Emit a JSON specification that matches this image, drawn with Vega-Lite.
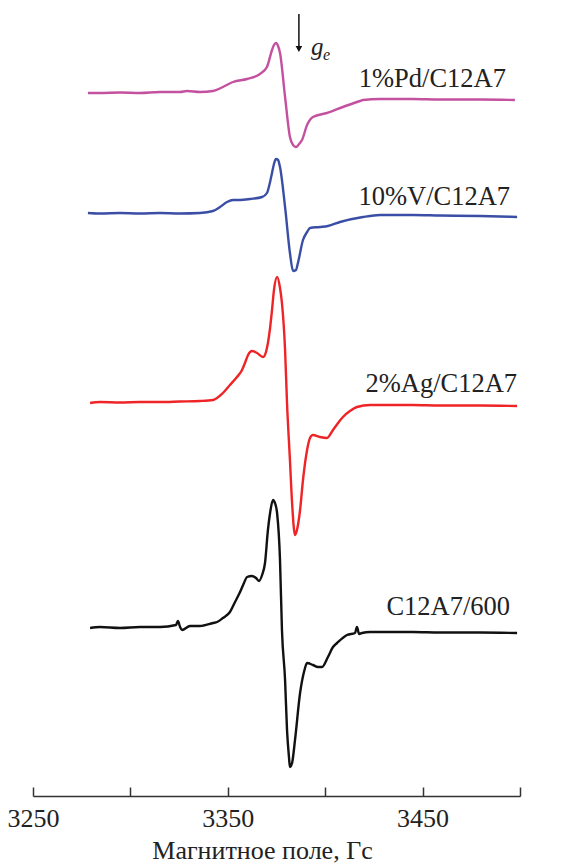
{
  "$schema": "https://vega.github.io/schema/vega-lite/v6.json",
  "width": 487,
  "height": 796,
  "autosize": "none",
  "padding": {"left": 33, "top": 0, "right": 50, "bottom": 68},
  "background": "white",
  "config": {"view": {"stroke": null}, "font": "'Liberation Serif', 'Times New Roman', Times, 'DejaVu Serif', serif"},
  "datasets": {
    "spectra": [
      {"s": "Pd", "B": 3278.2, "I": 703}, {"s": "Pd", "B": 3284.4, "I": 703}, {"s": "Pd", "B": 3294.7, "I": 703.5}, {"s": "Pd", "B": 3304.9, "I": 703}, {"s": "Pd", "B": 3315.2, "I": 704}, {"s": "Pd", "B": 3325.5, "I": 704}, {"s": "Pd", "B": 3329.1, "I": 705}, {"s": "Pd", "B": 3335.7, "I": 704}, {"s": "Pd", "B": 3342.4, "I": 705}, {"s": "Pd", "B": 3347.5, "I": 709}, {"s": "Pd", "B": 3352.7, "I": 714}, {"s": "Pd", "B": 3359.9, "I": 717}, {"s": "Pd", "B": 3366.5, "I": 722}, {"s": "Pd", "B": 3370.1, "I": 729}, {"s": "Pd", "B": 3372.7, "I": 746}, {"s": "Pd", "B": 3373.7, "I": 751}, {"s": "Pd", "B": 3374.7, "I": 753}, {"s": "Pd", "B": 3375.8, "I": 750}, {"s": "Pd", "B": 3376.8, "I": 743}, {"s": "Pd", "B": 3379.4, "I": 699}, {"s": "Pd", "B": 3381.9, "I": 659}, {"s": "Pd", "B": 3383.5, "I": 651}, {"s": "Pd", "B": 3385.0, "I": 649}, {"s": "Pd", "B": 3386.6, "I": 652}, {"s": "Pd", "B": 3388.1, "I": 656}, {"s": "Pd", "B": 3390.7, "I": 671}, {"s": "Pd", "B": 3393.7, "I": 679}, {"s": "Pd", "B": 3400.9, "I": 683}, {"s": "Pd", "B": 3409.1, "I": 689}, {"s": "Pd", "B": 3417.9, "I": 695}, {"s": "Pd", "B": 3419.4, "I": 696}, {"s": "Pd", "B": 3428.1, "I": 697}, {"s": "Pd", "B": 3445.1, "I": 697}, {"s": "Pd", "B": 3458.9, "I": 696.5}, {"s": "Pd", "B": 3479.5, "I": 696.5}, {"s": "Pd", "B": 3497.4, "I": 696},

      {"s": "V", "B": 3278.2, "I": 583}, {"s": "V", "B": 3284.4, "I": 582.5}, {"s": "V", "B": 3294.7, "I": 583}, {"s": "V", "B": 3304.9, "I": 582.5}, {"s": "V", "B": 3315.2, "I": 583}, {"s": "V", "B": 3325.5, "I": 582.5}, {"s": "V", "B": 3335.7, "I": 583}, {"s": "V", "B": 3342.4, "I": 585}, {"s": "V", "B": 3346.0, "I": 589}, {"s": "V", "B": 3349.6, "I": 594}, {"s": "V", "B": 3352.7, "I": 596}, {"s": "V", "B": 3356.3, "I": 596}, {"s": "V", "B": 3361.4, "I": 597}, {"s": "V", "B": 3367.6, "I": 599}, {"s": "V", "B": 3370.1, "I": 603}, {"s": "V", "B": 3371.7, "I": 614}, {"s": "V", "B": 3372.7, "I": 623}, {"s": "V", "B": 3373.7, "I": 632}, {"s": "V", "B": 3374.7, "I": 637}, {"s": "V", "B": 3375.8, "I": 636}, {"s": "V", "B": 3376.8, "I": 629}, {"s": "V", "B": 3379.4, "I": 589}, {"s": "V", "B": 3381.9, "I": 543}, {"s": "V", "B": 3383.5, "I": 525}, {"s": "V", "B": 3385.0, "I": 526}, {"s": "V", "B": 3386.0, "I": 533}, {"s": "V", "B": 3388.6, "I": 556}, {"s": "V", "B": 3390.7, "I": 564}, {"s": "V", "B": 3392.2, "I": 568}, {"s": "V", "B": 3397.3, "I": 569}, {"s": "V", "B": 3401.4, "I": 570}, {"s": "V", "B": 3407.6, "I": 574}, {"s": "V", "B": 3419.4, "I": 579}, {"s": "V", "B": 3428.1, "I": 581}, {"s": "V", "B": 3445.1, "I": 581}, {"s": "V", "B": 3458.9, "I": 580.5}, {"s": "V", "B": 3479.5, "I": 580}, {"s": "V", "B": 3498.5, "I": 579},

      {"s": "Ag", "B": 3279.3, "I": 393}, {"s": "Ag", "B": 3284.4, "I": 394}, {"s": "Ag", "B": 3294.7, "I": 393.5}, {"s": "Ag", "B": 3304.9, "I": 394}, {"s": "Ag", "B": 3315.2, "I": 394}, {"s": "Ag", "B": 3325.5, "I": 394.5}, {"s": "Ag", "B": 3335.7, "I": 395}, {"s": "Ag", "B": 3342.4, "I": 396}, {"s": "Ag", "B": 3347.5, "I": 403}, {"s": "Ag", "B": 3351.1, "I": 411}, {"s": "Ag", "B": 3354.7, "I": 419}, {"s": "Ag", "B": 3357.3, "I": 426}, {"s": "Ag", "B": 3358.8, "I": 433}, {"s": "Ag", "B": 3360.4, "I": 441}, {"s": "Ag", "B": 3362.4, "I": 445}, {"s": "Ag", "B": 3365.0, "I": 443}, {"s": "Ag", "B": 3368.1, "I": 439}, {"s": "Ag", "B": 3369.6, "I": 444}, {"s": "Ag", "B": 3370.6, "I": 453}, {"s": "Ag", "B": 3371.7, "I": 468}, {"s": "Ag", "B": 3372.7, "I": 486}, {"s": "Ag", "B": 3373.7, "I": 506}, {"s": "Ag", "B": 3375.3, "I": 519}, {"s": "Ag", "B": 3376.8, "I": 508}, {"s": "Ag", "B": 3377.8, "I": 493}, {"s": "Ag", "B": 3379.4, "I": 446}, {"s": "Ag", "B": 3380.4, "I": 393}, {"s": "Ag", "B": 3381.9, "I": 336}, {"s": "Ag", "B": 3383.0, "I": 293}, {"s": "Ag", "B": 3384.5, "I": 261}, {"s": "Ag", "B": 3385.5, "I": 266}, {"s": "Ag", "B": 3387.1, "I": 286}, {"s": "Ag", "B": 3388.6, "I": 316}, {"s": "Ag", "B": 3390.7, "I": 346}, {"s": "Ag", "B": 3392.2, "I": 358}, {"s": "Ag", "B": 3393.7, "I": 361}, {"s": "Ag", "B": 3397.3, "I": 359}, {"s": "Ag", "B": 3400.9, "I": 358}, {"s": "Ag", "B": 3404.0, "I": 366}, {"s": "Ag", "B": 3406.6, "I": 373}, {"s": "Ag", "B": 3409.1, "I": 379}, {"s": "Ag", "B": 3412.7, "I": 385}, {"s": "Ag", "B": 3416.3, "I": 389}, {"s": "Ag", "B": 3423.0, "I": 391}, {"s": "Ag", "B": 3428.1, "I": 391}, {"s": "Ag", "B": 3445.1, "I": 391}, {"s": "Ag", "B": 3458.9, "I": 390.5}, {"s": "Ag", "B": 3479.5, "I": 390.5}, {"s": "Ag", "B": 3498.5, "I": 390},

      {"s": "C", "B": 3279.3, "I": 168}, {"s": "C", "B": 3284.4, "I": 169}, {"s": "C", "B": 3294.7, "I": 168}, {"s": "C", "B": 3304.9, "I": 169}, {"s": "C", "B": 3315.2, "I": 169}, {"s": "C", "B": 3323.4, "I": 171}, {"s": "C", "B": 3324.4, "I": 175}, {"s": "C", "B": 3325.5, "I": 169}, {"s": "C", "B": 3326.5, "I": 166}, {"s": "C", "B": 3330.6, "I": 170}, {"s": "C", "B": 3335.7, "I": 170}, {"s": "C", "B": 3342.4, "I": 173}, {"s": "C", "B": 3344.5, "I": 174}, {"s": "C", "B": 3347.5, "I": 178}, {"s": "C", "B": 3351.1, "I": 184}, {"s": "C", "B": 3353.7, "I": 194}, {"s": "C", "B": 3356.3, "I": 204}, {"s": "C", "B": 3358.3, "I": 213}, {"s": "C", "B": 3359.9, "I": 219}, {"s": "C", "B": 3362.4, "I": 220}, {"s": "C", "B": 3364.5, "I": 218}, {"s": "C", "B": 3366.0, "I": 215}, {"s": "C", "B": 3367.6, "I": 221}, {"s": "C", "B": 3369.1, "I": 233}, {"s": "C", "B": 3370.6, "I": 266}, {"s": "C", "B": 3371.7, "I": 283}, {"s": "C", "B": 3373.2, "I": 296}, {"s": "C", "B": 3374.2, "I": 293}, {"s": "C", "B": 3375.3, "I": 283}, {"s": "C", "B": 3376.8, "I": 236}, {"s": "C", "B": 3377.8, "I": 166}, {"s": "C", "B": 3379.4, "I": 116}, {"s": "C", "B": 3380.4, "I": 66}, {"s": "C", "B": 3381.4, "I": 39}, {"s": "C", "B": 3381.9, "I": 29}, {"s": "C", "B": 3383.0, "I": 33}, {"s": "C", "B": 3384.5, "I": 56}, {"s": "C", "B": 3387.1, "I": 103}, {"s": "C", "B": 3389.1, "I": 124}, {"s": "C", "B": 3390.7, "I": 133}, {"s": "C", "B": 3393.7, "I": 131}, {"s": "C", "B": 3396.3, "I": 129}, {"s": "C", "B": 3398.4, "I": 129}, {"s": "C", "B": 3401.4, "I": 139}, {"s": "C", "B": 3404.0, "I": 149}, {"s": "C", "B": 3406.1, "I": 153}, {"s": "C", "B": 3411.2, "I": 161}, {"s": "C", "B": 3415.3, "I": 163}, {"s": "C", "B": 3416.3, "I": 169}, {"s": "C", "B": 3417.4, "I": 162}, {"s": "C", "B": 3418.9, "I": 163}, {"s": "C", "B": 3423.0, "I": 164}, {"s": "C", "B": 3428.1, "I": 164}, {"s": "C", "B": 3445.1, "I": 164}, {"s": "C", "B": 3458.9, "I": 163.5}, {"s": "C", "B": 3479.5, "I": 163.5}, {"s": "C", "B": 3498.5, "I": 163}
    ],
    "labels": [
      {"label": "1%Pd/C12A7", "B": 3492.8, "I": 709},
      {"label": "10%V/C12A7", "B": 3494.9, "I": 591},
      {"label": "2%Ag/C12A7", "B": 3498.5, "I": 404},
      {"label": "C12A7/600", "B": 3494.9, "I": 181}
    ],
    "arrow": [{"B": 3386.5, "I": 782, "I2": 750, "tip": 747}],
    "ge": [{"B": 3392.7, "I": 741, "t": "g"}],
    "ges": [{"B": 3398.9, "I": 736, "t": "e"}]
  },
  "layer": [
    {
      "data": {"name": "spectra"},
      "mark": {"type": "line", "strokeWidth": 2.4, "interpolate": "monotone"},
      "encoding": {
        "x": {
          "field": "B", "type": "quantitative",
          "scale": {"domain": [3250, 3500], "nice": false, "zero": false},
          "axis": {
            "values": [3250, 3300, 3350, 3400, 3450, 3500],
            "labelExpr": "datum.value % 100 == 50 ? datum.label : ''",
            "format": "d",
            "grid": false,
            "domainColor": "#333", "domainWidth": 1.5,
            "tickColor": "#333", "tickWidth": 1.5, "tickSize": -9,
            "labelFontSize": 26, "labelColor": "#222",
            "labelPadding": 18, "labelFlush": false, "labelOverlap": false,
            "title": "Магнитное поле, Гс",
            "titleFontSize": 26, "titleFontWeight": "normal",
            "titleColor": "#222", "titlePadding": 6, "titleX": 229
          }
        },
        "y": {
          "field": "I", "type": "quantitative",
          "scale": {"domain": [0, 796], "nice": false, "zero": false},
          "axis": null
        },
        "color": {
          "field": "s", "type": "nominal",
          "scale": {"domain": ["Pd", "V", "Ag", "C"], "range": ["#C4519F", "#3B4EA5", "#EE2427", "#111111"]},
          "legend": null
        }
      }
    },
    {
      "data": {"name": "labels"},
      "mark": {"type": "text", "align": "right", "baseline": "alphabetic", "fontSize": 26.5, "color": "#222"},
      "encoding": {
        "x": {"field": "B", "type": "quantitative"},
        "y": {"field": "I", "type": "quantitative"},
        "text": {"field": "label"}
      }
    },
    {
      "data": {"name": "arrow"},
      "mark": {"type": "rule", "color": "#111", "strokeWidth": 1.5},
      "encoding": {
        "x": {"field": "B", "type": "quantitative"},
        "y": {"field": "I", "type": "quantitative"},
        "y2": {"field": "I2"}
      }
    },
    {
      "data": {"name": "arrow"},
      "mark": {"type": "point", "shape": "triangle-down", "filled": true, "color": "#111", "size": 45, "opacity": 1},
      "encoding": {
        "x": {"field": "B", "type": "quantitative"},
        "y": {"field": "tip", "type": "quantitative"}
      }
    },
    {
      "data": {"name": "ge"},
      "mark": {"type": "text", "align": "left", "baseline": "alphabetic", "fontSize": 25, "fontStyle": "italic", "color": "#222"},
      "encoding": {
        "x": {"field": "B", "type": "quantitative"},
        "y": {"field": "I", "type": "quantitative"},
        "text": {"field": "t"}
      }
    },
    {
      "data": {"name": "ges"},
      "mark": {"type": "text", "align": "left", "baseline": "alphabetic", "fontSize": 16, "fontStyle": "italic", "color": "#222"},
      "encoding": {
        "x": {"field": "B", "type": "quantitative"},
        "y": {"field": "I", "type": "quantitative"},
        "text": {"field": "t"}
      }
    }
  ]
}
